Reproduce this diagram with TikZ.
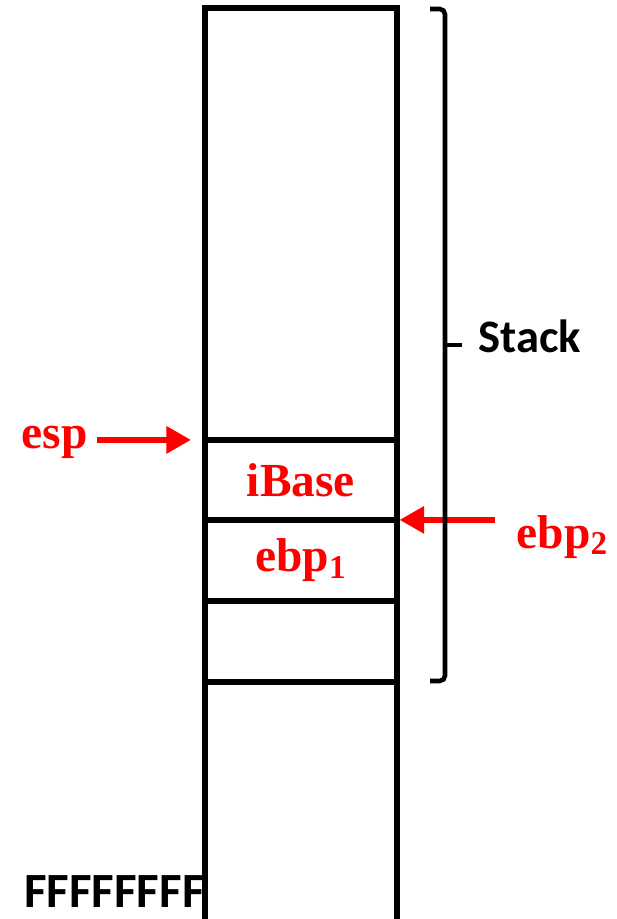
\documentclass[tikz,border=0pt]{standalone}
\usepackage{fontspec}
\setmainfont{Liberation Serif}
\newfontfamily\labelfont{Carlito}
\usetikzlibrary{arrows.meta,positioning}

\begin{document}
\begin{tikzpicture}[
        x=0.02cm, y=-0.02cm,
        cell/.style={
            rectangle,
            draw,
            line width=3.4pt,
            minimum width=3.84cm,
            inner sep=0pt,
            outer sep=0pt,
            text=red,
            font=\bfseries\fontsize{27}{30}\selectfont
        },
        reg/.style={
            text=red,
            inner sep=2pt,
            font=\bfseries\fontsize{27}{30}\selectfont
        },
        ptr/.style={
            -{Triangle[length=14pt,width=15pt]},
            red,
            line width=3pt
        },
        bracket/.style={
            line width=2.6pt,
            rounded corners=3pt
        },
        side/.style={
            inner sep=0pt,
            font=\labelfont\bfseries\fontsize{26.5}{30}\selectfont
        }
    ]

        \useasboundingbox (0,0) rectangle (617,919);

        % the stack column, top to bottom
        \node[cell, minimum height=8.64cm, anchor=north] (free) at (301,8) {};
        \node[cell, minimum height=1.6cm, below=0pt of free] (ibase) {iBase};
        \node[cell, minimum height=1.62cm, below=0pt of ibase] (oldebp) {ebp\textsubscript{1}};
        \node[cell, minimum height=1.62cm, below=0pt of oldebp] (empty) {};
        \node[cell, minimum height=5cm, below=0pt of empty] (bottom) {};

        % registers pointing into the stack
        \node[reg, anchor=base west] (esp) at (18,448) {esp};
        \node[reg, anchor=base west] (ebp) at (513,548) {ebp\textsubscript{2}};
        \draw[ptr, shorten <=3pt, shorten >=8pt] (esp.east |- ibase.north west) -- (ibase.north west);
        \draw[ptr, shorten <=10pt, shorten >=1.5pt] (ebp.west |- oldebp.north east) -- (oldebp.north east);

        % bracket over the stack part
        \draw[bracket] (430,9) -| (445,681) -- (430,681);
        \coordinate (tip) at (462,345);
        \draw[line width=2.6pt] (445,345) -- (tip);
        \node[side, anchor=west, xshift=0.32cm, yshift=0.18cm] (stack) at (tip) {Stack};

        \node[side, font=\labelfont\bfseries\fontsize{28}{30}\selectfont, anchor=base east]
            (addr) at (bottom.west |- 0,907) {FFFFFFFF};

    \end{tikzpicture}
\end{document}
